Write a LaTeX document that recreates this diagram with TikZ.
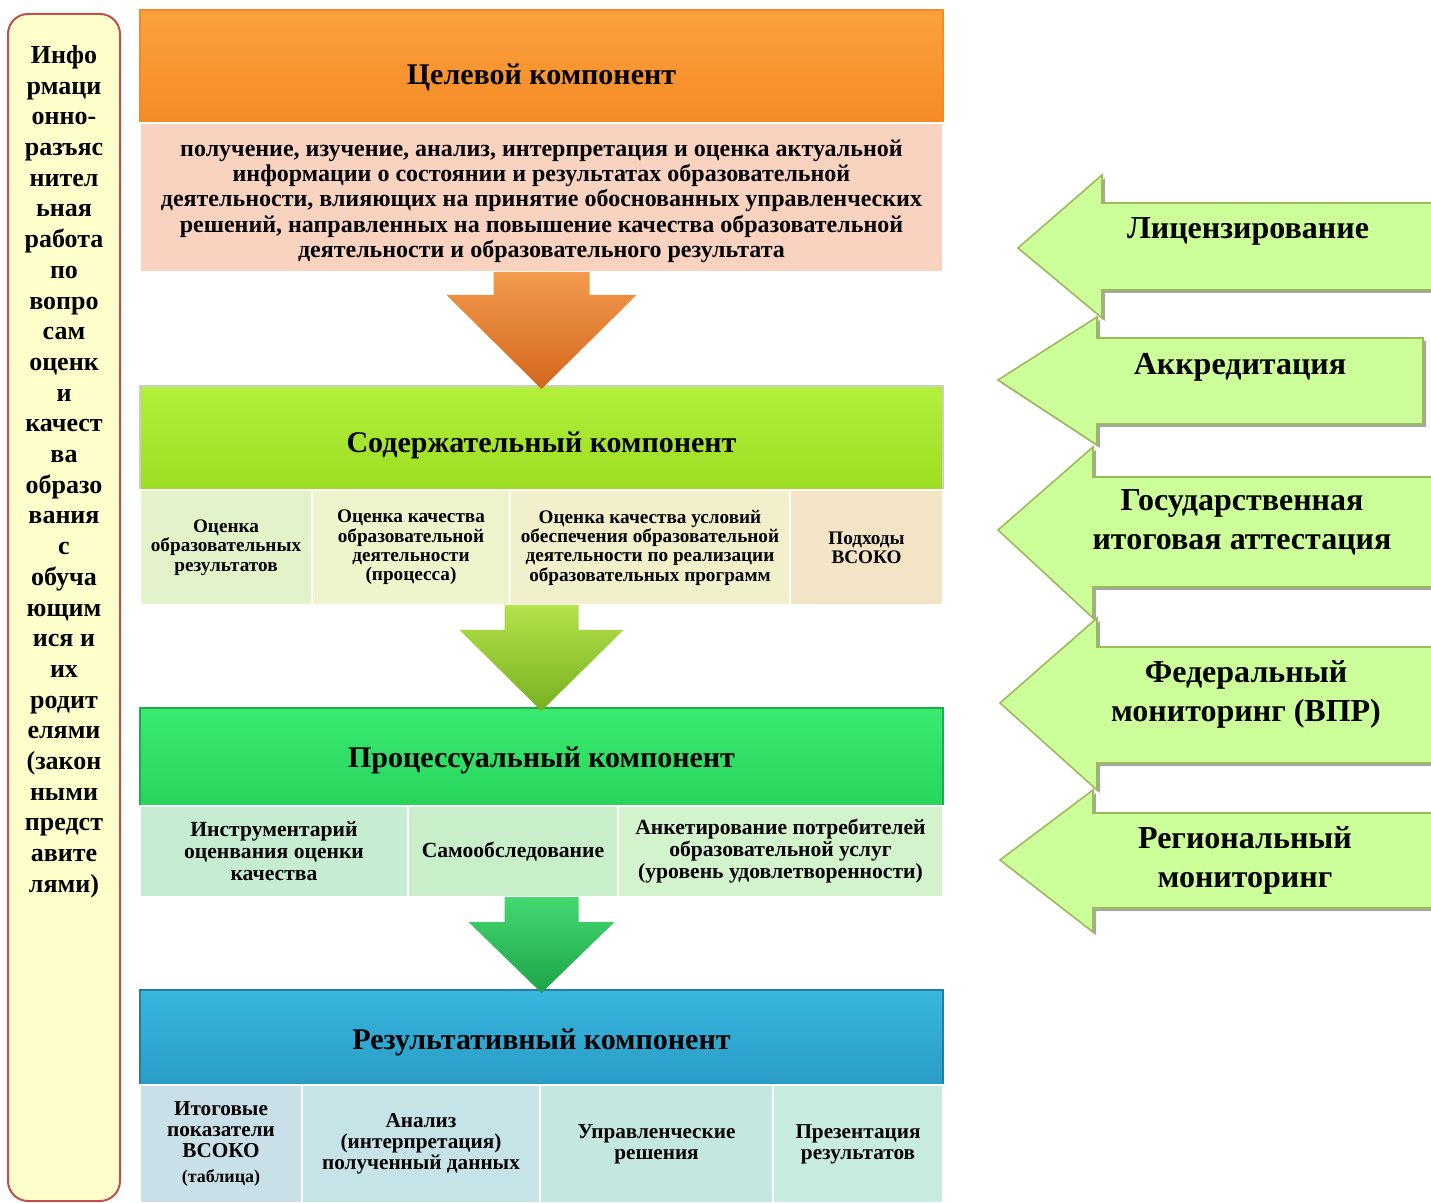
\documentclass[tikz,border=0pt]{standalone}
\usepackage{fontspec}
\setmainfont{Liberation Serif}
\usetikzlibrary{calc,shadows}
\definecolor{orgtop}{HTML}{FCA13F}
\definecolor{orgbot}{HTML}{F48B25}
\definecolor{peach}{HTML}{F9D3C0}
\definecolor{limetop}{HTML}{B2F03A}
\definecolor{limebot}{HTML}{9CDD22}
\definecolor{gretop}{HTML}{3AEA70}
\definecolor{grebot}{HTML}{28D45C}
\definecolor{blutop}{HTML}{38B6DE}
\definecolor{blubot}{HTML}{2A9CC6}
\definecolor{contA}{HTML}{E3F3C9}
\definecolor{contB}{HTML}{EEF5CC}
\definecolor{contC}{HTML}{F2EFCB}
\definecolor{contD}{HTML}{F2E4C4}
\definecolor{procA}{HTML}{C6EDD2}
\definecolor{procB}{HTML}{C8EFCA}
\definecolor{procC}{HTML}{D3F3CD}
\definecolor{resA}{HTML}{CAE0E8}
\definecolor{resB}{HTML}{C6E4E8}
\definecolor{resC}{HTML}{C4E8E0}
\definecolor{resD}{HTML}{C8ECE0}
\definecolor{arrorgtop}{HTML}{F39A4C}
\definecolor{arrorgbot}{HTML}{D2661C}
\definecolor{arrlimetop}{HTML}{B4E24A}
\definecolor{arrlimebot}{HTML}{78B020}
\definecolor{arrgretop}{HTML}{44D870}
\definecolor{arrgrebot}{HTML}{1EA448}
\definecolor{sidegreen}{HTML}{CCFF99}
\definecolor{sideline}{HTML}{9BBB59}
\definecolor{infofill}{HTML}{FFFFCC}
\definecolor{infoline}{HTML}{C0504D}
% block arrow between two components: start, tip, shaft half, neck, head half, fill
\newcommand{\flowarrow}[6]{%
  \shade[#6] ($(#1)+(-#3,0)$) -- ($(#1)+(-#3,#4)$) -- ($(#1)+(-#5,#4)$)
    -- ($(#2)+(0,3)$) -- ($(#1)+(#5,#4)$) -- ($(#1)+(#3,#4)$)
    -- ($(#1)+(#3,0)$) -- cycle;}
% header title set a little lower than the middle
\newcommand{\titledrop}[2]{\raisebox{-#1}[\height][\depth]{#2}}

\begin{document}
\begin{tikzpicture}[x=0.5pt,y=-0.5pt,
  hdrbox/.style={anchor=north west, inner sep=0pt, outer sep=0pt, minimum width=401.5pt,
    line width=0.6pt, font=\fontsize{15}{17}\selectfont\bfseries},
  cellbox/.style={anchor=north west, inner sep=1pt, outer sep=0pt, align=center,
    draw=white, line width=1.2pt},
  sidearrow/.style={fill=sidegreen, draw=sideline, line width=0.8pt,
    drop shadow={shadow xshift=1.5pt, shadow yshift=-1.5pt, fill=black!35, opacity=1}},
  sidetext/.style={align=center, font=\fontsize{16}{19.5}\selectfont\bfseries}]
  \useasboundingbox (0,0) rectangle (1431,1203);

  % left panel
  \draw[fill=infofill, draw=infoline, line width=1pt, rounded corners=10pt] (8,14) rectangle (120,1201);
  \node[anchor=north, align=center, inner sep=0pt, font=\fontsize{13}{15.35}\selectfont\bfseries] (info) at (64,45)
    {Инфо\\рмаци\\онно-\\разъяс\\нител\\ьная\\работа\\по\\вопро\\сам\\оценк\\и\\качест\\ва\\образо\\вания\\с\\обуча\\ющим\\ися и\\их\\родит\\елями\\(закон\\ными\\предст\\авите\\лями)};

  % target component
  \node[hdrbox, minimum height=56.5pt, top color=orgtop, bottom color=orgbot, draw=orgbot] (tgt) at (140,10)
    {\titledrop{5.5pt}{Целевой компонент}};
  \node[hdrbox, minimum height=74.5pt, fill=peach, draw=white, align=center,
    font=\fontsize{12}{12.6}\selectfont\bfseries] (tgtdesc) at (tgt.south west)
    {\rule{0pt}{12pt}получение, изучение, анализ, интерпретация и оценка актуальной\\
     информации о состоянии и результатах образовательной\\
     деятельности, влияющих на принятие обоснованных управленческих\\
     решений, направленных на повышение качества образовательной\\
     деятельности и образовательного результата};

  % content component
  \node[hdrbox, minimum height=52pt, top color=limetop, bottom color=limebot, draw=black!20] (cont) at (140,386)
    {\titledrop{3.5pt}{Содержательный компонент}};
  \begin{scope}[every node/.append style={cellbox, minimum height=57.5pt, font=\fontsize{9.6}{9.65}\selectfont\bfseries}]
    \node[fill=contA, minimum width=86pt] (cont1) at (cont.south west) {Оценка\\образовательных\\результатов};
    \node[fill=contB, minimum width=99pt] (cont2) at (cont1.north east) {Оценка качества\\образовательной\\деятельности\\(процесса)};
    \node[fill=contC, minimum width=140pt] (cont3) at (cont2.north east) {Оценка качества условий\\обеспечения образовательной\\деятельности по реализации\\образовательных программ};
    \node[fill=contD, minimum width=76.5pt] (cont4) at (cont3.north east) {Подходы\\ВСОКО};
  \end{scope}

  % process component
  \node[hdrbox, minimum height=49pt, top color=gretop, bottom color=grebot, draw=grebot!80!black] (proc) at (140,708)
    {\titledrop{1.5pt}{Процессуальный компонент}};
  \begin{scope}[every node/.append style={cellbox, minimum height=45.5pt, font=\fontsize{10.8}{11}\selectfont\bfseries}]
    \node[fill=procA, minimum width=134pt] (proc1) at (proc.south west) {Инструментарий\\оценвания оценки\\качества};
    \node[fill=procB, minimum width=105pt] (proc2) at (proc1.north east) {Самообследование};
    \node[fill=procC, minimum width=162.5pt] (proc3) at (proc2.north east) {Анкетирование потребителей\\образовательной услуг\\(уровень удовлетворенности)};
  \end{scope}

  % result component
  \node[hdrbox, minimum height=47.5pt, top color=blutop, bottom color=blubot, draw=blubot!80!black] (res) at (140,990)
    {\titledrop{2.5pt}{Результативный компонент}};
  \begin{scope}[every node/.append style={cellbox, minimum height=59pt, font=\fontsize{10.6}{10.5}\selectfont\bfseries}]
    \node[fill=resA, minimum width=81pt] (res1) at (res.south west) {Итоговые\\показатели\\ВСОКО\\[2pt]{\fontsize{9}{10}\selectfont(таблица)}};
    \node[fill=resB, minimum width=119pt] (res2) at (res1.north east) {Анализ\\(интерпретация)\\полученный данных};
    \node[fill=resC, minimum width=116.5pt] (res3) at (res2.north east) {Управленческие\\решения};
    \node[fill=resD, minimum width=85pt] (res4) at (res3.north east) {Презентация\\результатов};
  \end{scope}

  % arrows between components
  \coordinate (contbot) at (cont.north |- cont3.south);
  \coordinate (procbot) at (proc.north |- proc3.south);
  \flowarrow{tgtdesc.south}{cont.north}{48}{23}{95}{top color=arrorgtop, bottom color=arrorgbot}
  \flowarrow{contbot}{proc.north}{37}{25}{82}{top color=arrlimetop, bottom color=arrlimebot}
  \flowarrow{procbot}{res.north}{37}{25}{73}{top color=arrgretop, bottom color=arrgrebot}

  % external procedures
  \path[sidearrow] (1018,248) -- (1102,175) -- (1102,203) -- (1440,203) -- (1440,290) -- (1102,290) -- (1102,318) -- cycle;
  \path[sidearrow] (998,380) -- (1097,317) -- (1097,338) -- (1423,338) -- (1423,424) -- (1097,424) -- (1097,445) -- cycle;
  \path[sidearrow] (998,530) -- (1093,447) -- (1093,477) -- (1440,477) -- (1440,587) -- (1093,587) -- (1093,618) -- cycle;
  \path[sidearrow] (1000,703) -- (1097,618) -- (1097,647) -- (1440,647) -- (1440,763) -- (1097,763) -- (1097,790) -- cycle;
  \path[sidearrow] (1000,860) -- (1093,790) -- (1093,813) -- (1440,813) -- (1440,908) -- (1093,908) -- (1093,932) -- cycle;
  \node[sidetext] (lic) at (1248,231) {Лицензирование};
  \node[sidetext] (akk) at (1240,367) {Аккредитация};
  \node[sidetext] (gia) at (1242,522) {Государственная\\итоговая аттестация};
  \node[sidetext] (fed) at (1246,694) {Федеральный\\мониторинг (ВПР)};
  \node[sidetext] (reg) at (1245,860) {Региональный\\мониторинг};
\end{tikzpicture}
\end{document}
